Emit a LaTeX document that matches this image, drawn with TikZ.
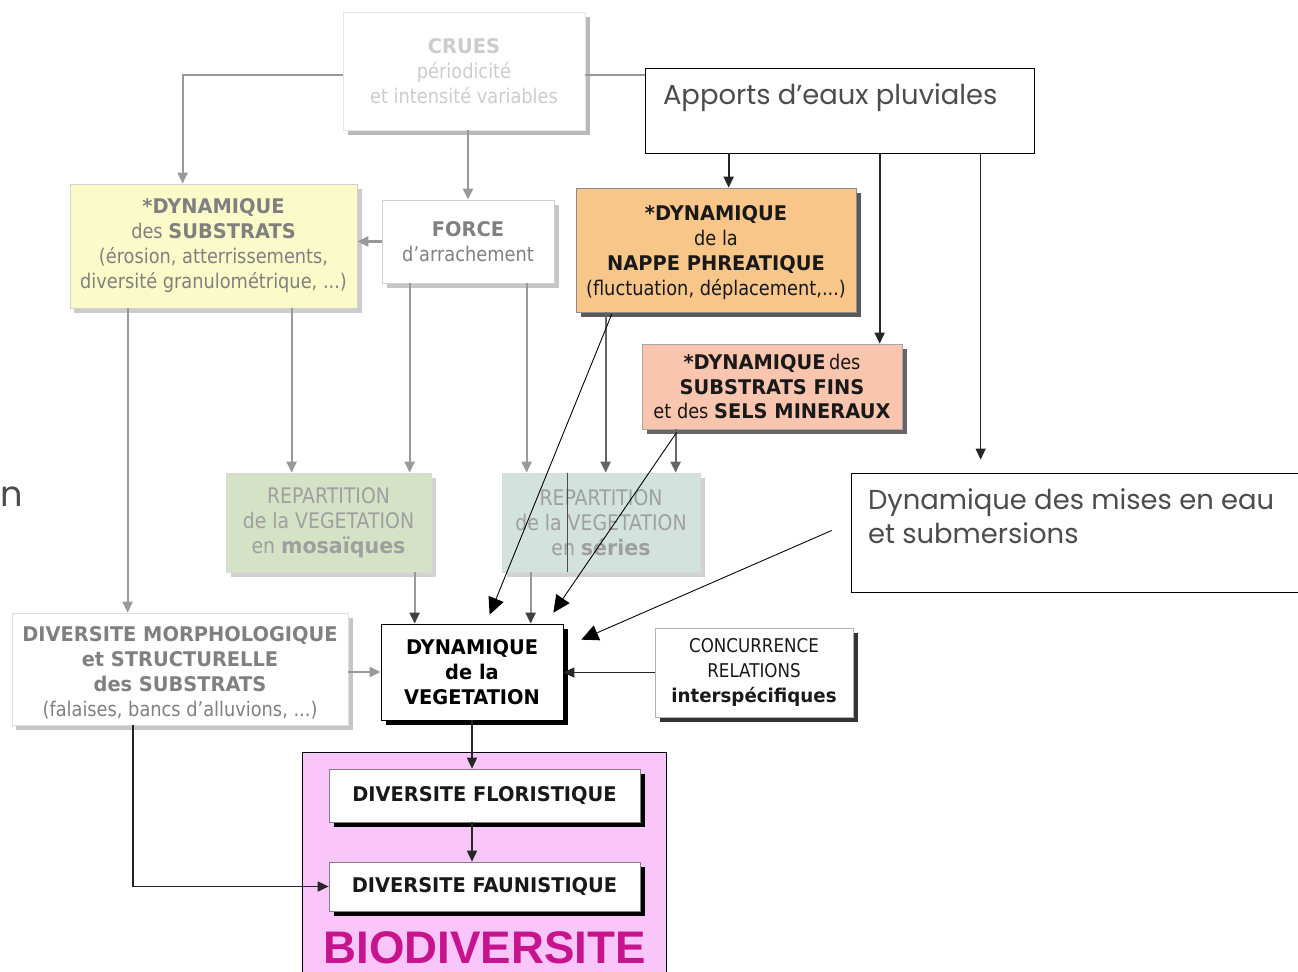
\documentclass[tikz,border=0pt]{standalone}
\usepackage{fontspec}
\setmainfont{DejaVu Sans}[FakeStretch=0.88, BoldFeatures={FakeStretch=0.96}]
\newfontfamily\gothicfont{Poppins}
\newfontfamily\arialfont{Liberation Sans}
\usepackage{xcolor}
\usepackage{tikz}
\usetikzlibrary{arrows.meta, positioning, calc, fit, shadows}

\definecolor{substrfill}{HTML}{FBFBC9}
\definecolor{nappefill}{HTML}{F9C68A}
\definecolor{finsfill}{HTML}{FAC5AE}
\definecolor{mosafill}{HTML}{D5E2C5}
\definecolor{seriesfill}{HTML}{D3E2DC}
\definecolor{biofill}{HTML}{FAC6FA}
\definecolor{biotext}{HTML}{C8148C}

\tikzset{
  panel/.style={rectangle, inner sep=0pt},
  boxtext/.style={align=center, inner sep=0pt, font=\fontsize{11.5}{14.2}\selectfont},
  boxshadow/.style={general shadow={fill=#1, shadow xshift=0.09cm, shadow yshift=-0.09cm}},
  gline/.style={draw=gray!80, line width=1.3pt},
  garrow/.style={gline, -{Triangle[length=0.22cm, width=0.2cm]}},
  darrow/.style={draw=black!60, line width=1.3pt, -{Triangle[length=0.22cm, width=0.2cm]}},
  tiparrow/.style={gline, -{Triangle[length=0.22cm, width=0.2cm, color=black!75]}},
  barrow/.style={draw=black!85, line width=1pt, -{Triangle[length=0.22cm, width=0.2cm]}},
  thinarrow/.style={draw=black, line width=0.5pt, -{Triangle[length=0.34cm, width=0.32cm]}},
  wordbox/.style={draw=black, fill=white, inner sep=0pt},
  wordtext/.style={anchor=north west, inner sep=0pt, text=black!70, align=left,
    font=\gothicfont\fontsize{15.6}{19.3}\selectfont}
}

\begin{document}
\begin{tikzpicture}[x=0.02cm, y=-0.02cm]
  \useasboundingbox (0,0) rectangle (1298,971);
  \clip (0,0) rectangle (1298,971);
  % upper boxes
  \node (crues) [panel, fit={(343,12) (585,130)}, draw=gray!20, fill=white, boxshadow=gray!55,
    label={[boxtext, text=gray!40]center:\textbf{CRUES}\\périodicité\\et intensité variables}] {};
  \node (apports) [wordbox, fit={(645,68) (1034,153)},
    label={[wordtext, xshift=0.36cm, yshift=-0.31cm]north west:Apports d’eaux pluviales}] {};
  \node (substr) [panel, fit={(70,184) (357,308)}, draw=gray!35, fill=substrfill, boxshadow=gray!40,
    label={[boxtext, text=gray]center:\textbf{*DYNAMIQUE}\\des \textbf{SUBSTRATS}\\(érosion, atterrissements,\\diversité granulométrique, ...)}] {};
  \node (force) [panel, fit={(382,200) (554,283)}, draw=gray!35, fill=white, boxshadow=gray!45,
    label={[boxtext, text=gray]center:\textbf{FORCE}\\d'arrachement}] {};
  \node (nappe) [panel, fit={(576,188) (856,312)}, draw=black!45, fill=nappefill, boxshadow=black!65,
    label={[boxtext, text=black!90, yshift=-0.06cm]center:\textbf{*DYNAMIQUE}\\de la\\\textbf{NAPPE PHREATIQUE}\\(fluctuation, déplacement,...)}] {};
  \node (fins) [panel, fit={(642,344) (902,429)}, draw=black!35, fill=finsfill, boxshadow=black!60,
    label={[boxtext, text=black!90]center:\textbf{*DYNAMIQUE}\,des\\\textbf{SUBSTRATS FINS}\\et des \textbf{SELS MINERAUX}}] {};
  % middle boxes
  \node (mosa) [panel, fit={(226,473) (431,572)}, draw=gray!30, fill=mosafill, boxshadow=gray!35,
    label={[boxtext, text=gray!75, font=\fontsize{12.2}{14.2}\selectfont]center:REPARTITION\\de la VEGETATION\\en \textbf{mosaïques}}] {};
  \node (series) [panel, fit={(502,473) (700,572)}, draw=gray!30, fill=seriesfill, boxshadow=gray!35,
    label={[boxtext, text=gray!75, font=\fontsize{12.2}{14.2}\selectfont]center:REPARTITION\\de la VEGETATION\\en \textbf{séries}}] {};
  \draw[black!70, line width=0.4pt] ($(series.north west)+(66,0)$) -- ($(series.south west)+(66,0)$);
  \node (mises) [wordbox, fit={(851,473) (1310,592)},
    label={[wordtext, xshift=0.34cm, yshift=-0.31cm]north west:Dynamique des mises en eau\\et submersions}] {};
  \node (ncut) at (12,497) [font=\gothicfont\fontsize{20}{24}\selectfont, text=black!70] {n};
  % lower boxes
  \node (morpho) [panel, fit={(12,613) (348,725)}, draw=gray!25, fill=white, boxshadow=gray!45,
    label={[boxtext, text=gray, yshift=-0.08cm]center:\textbf{DIVERSITE MORPHOLOGIQUE}\\\textbf{et STRUCTURELLE}\\\textbf{des SUBSTRATS}\\(falaises, bancs d'alluvions, ...)}] {};
  \node (veg) [panel, fit={(381,624) (563,720)}, draw=black, fill=white, boxshadow=black,
    label={[boxtext, text=black]center:\textbf{DYNAMIQUE}\\\textbf{de la}\\\textbf{VEGETATION}}] {};
  \node (conc) [panel, fit={(655,628) (853,717)}, draw=gray!60, fill=white, boxshadow=black!80,
    label={[boxtext, text=black!90, font=\fontsize{10.8}{14}\selectfont]center:CONCURRENCE\\RELATIONS\\\textbf{interspécifiques}}] {};
  \node (bio) [wordbox, fit={(302,752) (666,990)}, fill=biofill] {};
  \node (flor) [panel, fit={(329,769) (640,822)}, draw=black!50, fill=white, boxshadow=black,
    label={[boxtext, text=black!90]center:\textbf{DIVERSITE FLORISTIQUE}}] {};
  \node (faun) [panel, fit={(329,862) (640,911)}, draw=black!50, fill=white, boxshadow=black,
    label={[boxtext, text=black!90]center:\textbf{DIVERSITE FAUNISTIQUE}}] {};
  \node (biotxt) at ($(faun.south)+(0,36)$) [font=\arialfont\bfseries\fontsize{26}{30}\selectfont, text=biotext]
    {BIODIVERSITE};
  % connectors from the top
  \draw[garrow] ($(crues.north west)+(0,63)$) -| ($(substr.north west)+(113,0)$);
  \draw[garrow] (force.north |- crues.south) -- (force.north);
  \draw[gline] ($(crues.north east)+(0,63)$) coordinate (cr) -- (cr -| apports.west);
  \draw[barrow] ($(apports.south west)+(84,0)$) coordinate (a1) -- (a1 |- nappe.north);
  \draw[barrow] ($(apports.south west)+(235,0)$) coordinate (a2) -- (a2 |- fins.north);
  \draw[barrow, line width=0.7pt] ($(apports.south west)+(336,0)$) -- ($(mises.north west)+(130,-13)$);
  \draw[garrow] (force.west) -- (force.west -| substr.east);
  % down to the repartition boxes
  \draw[garrow] ($(substr.south west)+(58,0)$) coordinate (s1) -- (s1 |- morpho.north);
  \draw[garrow] ($(substr.south west)+(222,0)$) coordinate (s2) -- (s2 |- mosa.north);
  \draw[garrow] ($(force.south west)+(28,0)$) coordinate (f1) -- (f1 |- mosa.north);
  \draw[garrow] ($(force.south west)+(145,0)$) coordinate (f2) -- (f2 |- series.north);
  \draw[darrow] ($(nappe.south west)+(30,0)$) coordinate (n1) -- (n1 |- series.north);
  \draw[darrow] ($(fins.south west)+(34,0)$) coordinate (m1) -- (m1 |- series.north);
  % into the vegetation box
  \draw[tiparrow] ($(mosa.south west)+(189,0)$) coordinate (r1) -- (r1 |- veg.north);
  \draw[tiparrow] ($(series.south west)+(29,0)$) coordinate (r2) -- (r2 |- veg.north);
  \draw[garrow] (morpho.east |- veg.west) -- (veg.west);
  \draw[barrow] (conc.west) -- (conc.west -| veg.east);
  \draw[thinarrow] ($(nappe.south west)+(36,2)$) -- ($(veg.north west)+(109,-9)$);
  \draw[thinarrow] ($(fins.south west)+(35,3)$) -- ($(veg.north east)+(-10,-11)$);
  \draw[thinarrow] ($(mises.west)+(-19,-2)$) -- ($(veg.north east)+(18,16)$);
  % biodiversity
  \draw[barrow] (veg.south) -- (veg.south |- flor.north);
  \draw[barrow] (veg.south |- flor.south) -- (veg.south |- faun.north);
  \draw[barrow] ($(morpho.south west)+(121,0)$) |- (faun.west);
\end{tikzpicture}
\end{document}
